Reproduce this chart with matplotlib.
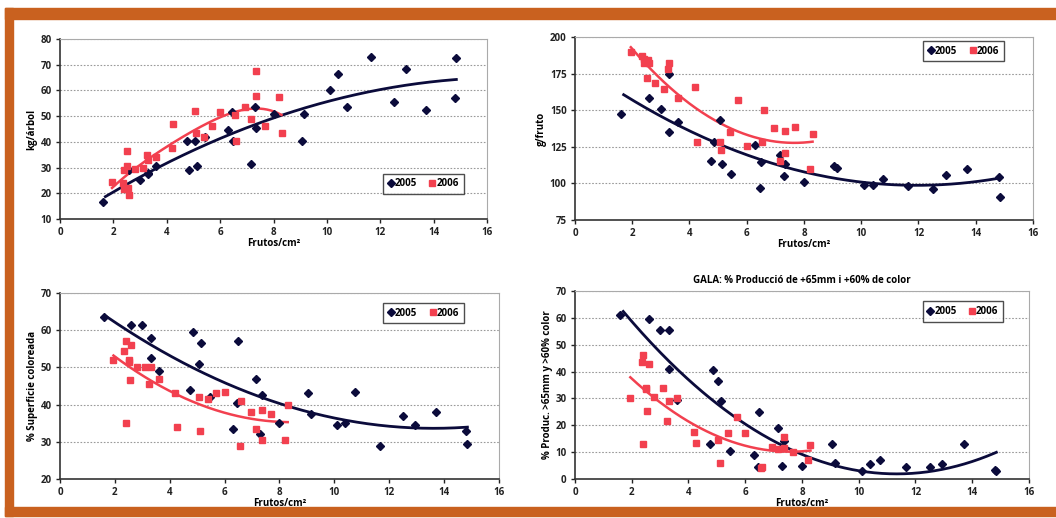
import matplotlib
matplotlib.use('Agg')
import matplotlib.pyplot as plt
import numpy as np
from matplotlib.patches import Rectangle

plt.rcParams['font.family'] = ['Open Sans', 'DejaVu Sans']
plt.rcParams['font.weight'] = 'bold'

# --- datos 2005 (rombos) ---
x05 = [1.6, 2.6, 3.0, 3.3, 3.3, 3.6, 4.75, 4.85, 5.05, 5.15, 5.45, 6.3, 6.45, 6.5,
       7.15, 7.3, 7.35, 8.0, 9.05, 9.15, 10.1, 10.4, 10.75, 11.65, 12.5, 12.95,
       13.7, 14.8, 14.85]
kg05 = [16.5, 29, 25, 27.5, 28, 30.5, 40.5, 29, 40.5, 30.5, 42, 44.5, 51.5, 40.5,
        31.5, 53.5, 45.5, 51, 40.5, 51, 60, 66.5, 53.5, 73, 55.5, 68.5, 52.5, 57, 72.5]
g05 = [147.5, 158, 151, 135, 175, 142, 115.5, 128, 143, 113.5, 106.5, 126.5, 97,
       114.5, 119.5, 105, 113.5, 101, 112, 110.5, 99, 99, 103, 98, 96.5, 106,
       109.5, 104.5, 91]
sup05 = [63.5, 61.5, 61.5, 58, 52.5, 49, 44, 59.5, 51, 56.5, 42, 33.5, 40.5, 57,
         47, 32, 42.5, 35, 43, 37.5, 34.5, 35, 43.5, 29, 37, 34.5, 38, 33, 29.5]
prod05 = [61, 59.5, 55.5, 55.5, 41, 29.5, 13, 40.5, 36.5, 29, 10.5, 9, 4.5, 25,
          19, 5, 14, 5, 13, 6, 3, 5.5, 7, 4.5, 4.5, 5.5, 13, 3.5, 3]

# --- datos 2006 (cuadrados) ---
x06 = [1.95, 2.35, 2.4, 2.4, 2.5, 2.5, 2.55, 2.6, 2.8, 3.1, 3.25, 3.3, 3.6, 4.2,
       4.25, 5.05, 5.1, 5.4, 5.7, 6.0, 6.55, 6.6, 6.95, 7.15, 7.35, 7.35, 7.7,
       8.2, 8.3]
kg06 = [24.5, 24, 21.5, 29, 36.5, 30.5, 22, 19.5, 29.5, 30, 35, 33, 34, 37.5,
        47, 52, 43.5, 42, 46, 51.5, 50.5, 40.5, 53.5, 49, 67.5, 58, 46, 57.5, 43.5]
g06 = [189.5, 187, 182, 185, 183.5, 172, 184, 182, 168.5, 164.5, 178, 182.5, 158,
       166, 128.5, 128.5, 122.5, 135, 157, 125.5, 128.5, 150, 138, 115.5, 136,
       120.5, 138.5, 110, 134]
sup06 = [52, 54.5, 57, 35, 51.5, 52, 46.5, 56, 50, 50, 45.5, 50, 47, 43, 34, 42,
         33, 41.5, 43, 43.5, 29, 41, 38, 33.5, 38.5, 30.5, 37.5, 30.5, 40]
prod06 = [30, 43.5, 46, 13, 33.5, 34, 25.5, 43, 30.5, 34, 21.5, 29, 30, 17.5,
          13.5, 14.5, 6, 17, 23, 17, 4, 4.5, 12, 11, 15.5, 11.5, 10, 7, 12.5]

col_05 = '#0b0b3b'
col_06 = '#f2404f'
naranja = '#c9611f'

fig = plt.figure(figsize=(10.56, 5.18), dpi=100)

# marco naranja
fig.patches.append(Rectangle((5 / 1056, 1 - 19 / 518), 1051 / 1056, 11 / 518,
                             transform=fig.transFigure, color=naranja, zorder=0))
fig.patches.append(Rectangle((5 / 1056, 1 - 516 / 518), 8 / 1056, 508 / 518,
                             transform=fig.transFigure, color=naranja, zorder=0))
fig.patches.append(Rectangle((5 / 1056, 1 - 516 / 518), 1051 / 1056, 9 / 518,
                             transform=fig.transFigure, color=naranja, zorder=0))

paneles = [
    # (rect, y05, y06, ylim, ystep, ylabel, grado06, legend loc)
    ([0.0568, 0.5772, 0.4044, 0.3475], kg05, kg06, (10, 80), 10, 'kg/árbol', 4, (0.745, 0.11)),
    ([0.5445, 0.5753, 0.4337, 0.3533], g05, g06, (75, 200), 25, 'g/fruto', 2, (0.75, 0.84)),
    ([0.0568, 0.0753, 0.4157, 0.3591], sup05, sup06, (20, 70), 10, '% Superficie coloreada', 2, (0.725, 0.81)),
    ([0.5445, 0.0753, 0.4299, 0.3629], prod05, prod06, (0, 70), 10, '% Produc. >65mm y >60% color', 2, (0.755, 0.81)),
]

for rect, y05, y06, ylim, ystep, ylab, grado06, legpos in paneles:
    ax = fig.add_axes(rect)
    ax.set_xlim(0, 16)
    ax.set_ylim(*ylim)
    ax.set_xticks(range(0, 17, 2))
    ax.set_yticks(np.arange(ylim[0], ylim[1] + 1, ystep))
    for yv in np.arange(ylim[0] + ystep, ylim[1] + 1, ystep):
        ax.axhline(yv, color='#9a9a9a', linestyle=(0, (1.5, 1.5)), linewidth=0.8, zorder=1)

    # lineas de tendencia polinómicas
    c05 = np.polyfit(x05, y05, 2)
    xs = np.linspace(min(x05) + 0.1, max(x05), 200)
    ax.plot(xs, np.polyval(c05, xs), color=col_05, linewidth=2, zorder=3)
    c06 = np.polyfit(x06, y06, grado06)
    xs = np.linspace(min(x06), max(x06), 200)
    ax.plot(xs, np.polyval(c06, xs), color=col_06, linewidth=1.8, zorder=3)

    ax.plot(x05, y05, 'D', color=col_05, markersize=4.5, linestyle='none', label='2005', zorder=4)
    ax.plot(x06, y06, 's', color=col_06, markersize=5, linestyle='none', label='2006', zorder=4)

    ax.set_xlabel('Frutos/cm²', fontsize=7, fontweight='bold', labelpad=0)
    ax.set_ylabel(ylab, fontsize=7, fontweight='bold', labelpad=2)
    ax.tick_params(labelsize=7, length=3, width=1, pad=3, colors='#222222')
    for s in ['left', 'bottom']:
        ax.spines[s].set_color('#333333')
        ax.spines[s].set_linewidth(1.2)
    for s in ['top', 'right']:
        ax.spines[s].set_color('#aaaaaa')
        ax.spines[s].set_linewidth(0.8)

    leg = ax.legend(loc='lower left', bbox_to_anchor=legpos, ncol=2, fontsize=7,
                    frameon=True, fancybox=False, handlelength=0.6, handletextpad=0.1,
                    columnspacing=1.3, borderpad=0.5, markerscale=1.0)
    leg.get_frame().set_edgecolor('#222222')
    leg.get_frame().set_linewidth(1)

    if ylab.startswith('% Produc'):
        ax.set_title('GALA: % Producció de +65mm i +60% de color', fontsize=7,
                     fontweight='bold', pad=6)

fig.savefig('out.png', dpi=100)
